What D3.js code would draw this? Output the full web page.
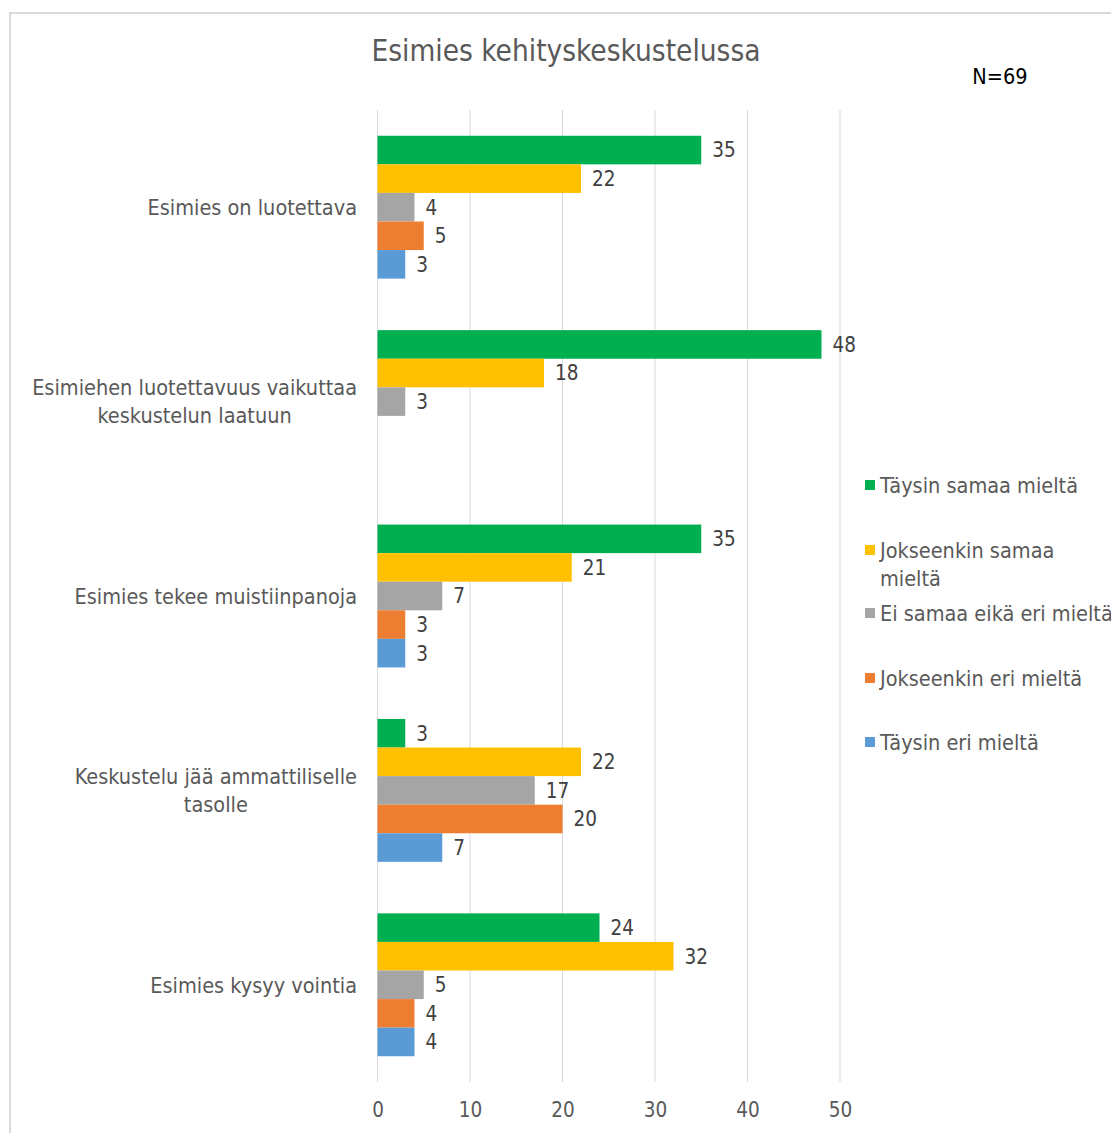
<!DOCTYPE html>
<html>
<head>
<meta charset="utf-8">
<script src="https://cdn.jsdelivr.net/npm/d3@7"></script>
<style>
  html, body { margin: 0; padding: 0; background: #fff; }
  svg { display: block; }
  text { font-family: "DejaVu Sans Condensed", "DejaVu Sans", sans-serif; }
</style>
</head>
<body>
<svg id="chart" width="1111" height="1133"></svg>
<script>
// Questions (each may span several lines)
const categories = [
  ["Esimies on luotettava"],
  ["Esimiehen luotettavuus vaikuttaa", "keskustelun laatuun"],
  ["Esimies tekee muistiinpanoja"],
  ["Keskustelu jää ammattiliselle", "tasolle"],
  ["Esimies kysyy vointia"]
];

// Answer options, in bar order within a group
const seriesNames = [
  "Täysin samaa mieltä",
  "Jokseenkin samaa mieltä",
  "Ei samaa eikä eri mieltä",
  "Jokseenkin eri mieltä",
  "Täysin eri mieltä"
];
const legendLines = [
  ["Täysin samaa mieltä"],
  ["Jokseenkin samaa", "mieltä"],
  ["Ei samaa eikä eri mieltä"],
  ["Jokseenkin eri mieltä"],
  ["Täysin eri mieltä"]
];
const seriesColors = ["#00B050", "#FFC000", "#A5A5A5", "#ED7D31", "#5B9BD5"];

// Counts per answer option, one value per question
const taysinSamaa     = [35, 48, 35, 3, 24];
const jokseenkinSamaa = [22, 18, 21, 22, 32];
const eiSamaaEikaEri  = [4, 3, 7, 17, 5];
const jokseenkinEri   = [5, null, 3, 20, 4];
const taysinEri       = [3, null, 3, 7, 4];
const seriesValues = [taysinSamaa, jokseenkinSamaa, eiSamaaEikaEri, jokseenkinEri, taysinEri];

const xTicks = [0, 10, 20, 30, 40, 50];
const title = "Esimies kehityskeskustelussa";
const sampleNote = "N=69";

const svg = d3.select("#chart");

// Chart frame
svg.append("rect")
  .attr("x", 10).attr("y", 13)
  .attr("width", 1200).attr("height", 1200)
  .attr("fill", "#fff")
  .attr("stroke", "#d9d9d9").attr("stroke-width", 2);

const plot = { left: 377.5, right: 840, top: 110, bottom: 1082 };

const x = d3.scaleLinear().domain([0, 50]).range([plot.left, plot.right]);
const y0 = d3.scaleBand()
  .domain(d3.range(categories.length))
  .range([plot.top, plot.bottom])
  .paddingInner(0.265)
  .paddingOuter(0.1325);
const y1 = d3.scaleBand()
  .domain(d3.range(seriesNames.length))
  .range([0, y0.bandwidth()]);

// Vertical gridlines
svg.append("g")
  .selectAll("line")
  .data(xTicks)
  .join("line")
  .attr("x1", d => x(d)).attr("x2", d => x(d))
  .attr("y1", plot.top).attr("y2", plot.bottom)
  .attr("stroke", "#d9d9d9").attr("stroke-width", 1);

// Axis tick labels
const xAxis = d3.axisBottom(x).tickValues(xTicks).tickSize(0).tickPadding(0);
const axisG = svg.append("g")
  .attr("transform", `translate(0,${plot.bottom + 20})`)
  .call(xAxis);
axisG.select(".domain").remove();
axisG.selectAll("text")
  .attr("font-size", 20.5)
  .attr("fill", "#595959")
  .attr("font-family", "DejaVu Sans Condensed, DejaVu Sans, sans-serif");

// Bars
const rows = [];
categories.forEach((c, ci) => {
  seriesValues.forEach((vals, si) => {
    if (vals[ci] != null) rows.push({ ci, si, v: vals[ci] });
  });
});

const barG = svg.append("g");
barG.selectAll("rect")
  .data(rows)
  .join("rect")
  .attr("x", x(0))
  .attr("y", d => y0(d.ci) + y1(d.si))
  .attr("width", d => x(d.v) - x(0))
  .attr("height", y1.bandwidth())
  .attr("fill", d => seriesColors[d.si]);

// Value labels
barG.selectAll("text")
  .data(rows)
  .join("text")
  .attr("x", d => x(d.v) + 11)
  .attr("y", d => y0(d.ci) + y1(d.si) + y1.bandwidth() / 2)
  .attr("dy", "0.36em")
  .attr("font-size", 20.5)
  .attr("fill", "#404040")
  .text(d => d.v);

// Category labels
const catG = svg.append("g");
categories.forEach((lines, ci) => {
  const cy = y0(ci) + y0.bandwidth() / 2;
  const lh = 28;
  const g = catG.append("g");
  const t = g.append("text")
    .attr("font-size", 21.5)
    .attr("fill", "#595959")
    .attr("text-anchor", "middle");
  lines.forEach((ln, li) => {
    t.append("tspan")
      .attr("x", 0)
      .attr("y", cy + (li - (lines.length - 1) / 2) * lh)
      .attr("dy", "0.36em")
      .text(ln);
  });
  const w = t.node().getBBox().width;
  g.attr("transform", `translate(${357 - w / 2},0)`);
});

// Legend
const legendY = [485, 550, 613, 678, 742];
const legG = svg.append("g");
legendLines.forEach((lines, i) => {
  legG.append("rect")
    .attr("x", 865).attr("y", legendY[i] - 5)
    .attr("width", 10).attr("height", 10)
    .attr("fill", seriesColors[i]);
  const t = legG.append("text")
    .attr("font-size", 21.5)
    .attr("fill", "#595959");
  lines.forEach((ln, li) => {
    t.append("tspan")
      .attr("x", 880)
      .attr("y", legendY[i] + li * 28)
      .attr("dy", "0.36em")
      .text(ln);
  });
});

// Title and sample size
svg.append("text")
  .attr("x", 566).attr("y", 50)
  .attr("dy", "0.36em")
  .attr("text-anchor", "middle")
  .attr("font-size", 29.5)
  .attr("fill", "#595959")
  .text(title);

svg.append("text")
  .attr("x", 1000).attr("y", 76)
  .attr("dy", "0.36em")
  .attr("text-anchor", "middle")
  .attr("font-size", 21.5)
  .attr("fill", "#000")
  .text(sampleNote);
</script>
</body>
</html>
